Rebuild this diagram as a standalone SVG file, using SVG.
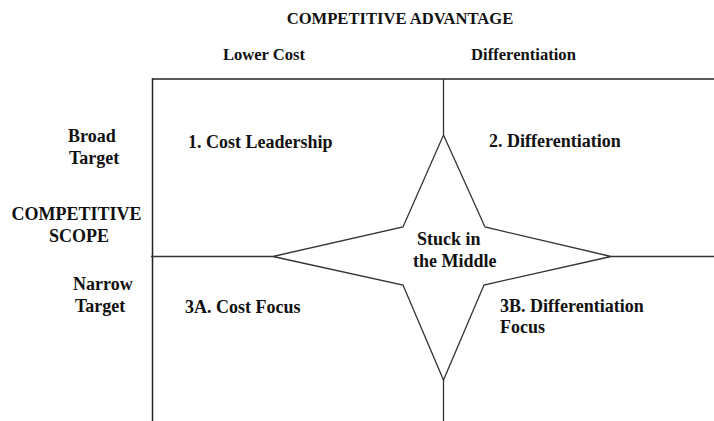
<svg xmlns="http://www.w3.org/2000/svg" width="714" height="421" viewBox="0 0 714 421">
  <style>
    .t { font-family: "Liberation Serif", "Times New Roman", serif; font-weight: bold; font-size: 18px; fill: #111; }
    .h { font-size: 16.6px; }
    .c { text-anchor: middle; }
    .ln { fill: none; stroke: #222; stroke-width: 1.5; }
    .st { fill: none; stroke: #333; stroke-width: 1.3; stroke-linejoin: miter; }
  </style>
  <rect width="714" height="421" fill="#fff"/>

  <!-- headings -->
  <g id="axis-advantage">
    <text class="t h c" x="400" y="24">COMPETITIVE ADVANTAGE</text>
    <text class="t h c" x="264" y="60">Lower Cost</text>
    <text class="t h c" x="523.5" y="60">Differentiation</text>
  </g>
  <g id="axis-scope">
    <text class="t" x="68" y="142">Broad</text>
    <text class="t" x="69" y="164">Target</text>
    <text class="t c" x="76.5" y="220">COMPETITIVE</text>
    <text class="t c" x="79" y="242">SCOPE</text>
    <text class="t" x="73" y="290">Narrow</text>
    <text class="t" x="75" y="312">Target</text>
  </g>

  <!-- grid lines and central star -->
  <g id="connectors">
    <line class="ln" x1="152.5" y1="79" x2="714" y2="79"/>
    <line class="ln" x1="152.5" y1="78.3" x2="152.5" y2="421"/>
    <line class="st" x1="151" y1="256.5" x2="273" y2="256.5"/>
    <line class="st" x1="611" y1="256.5" x2="714" y2="256.5"/>
    <line class="st" x1="443.5" y1="79" x2="443.5" y2="135"/>
    <line class="st" x1="443.5" y1="380" x2="443.5" y2="421"/>
  </g>
  <g id="stuck-in-the-middle">
    <polygon class="st" points="443.5,135 485,227 611,256.5 484,285 443.5,380 403,285 273,256.5 403,227"/>
    <text class="t" x="417" y="245">Stuck in</text>
    <text class="t" x="413" y="267">the Middle</text>
  </g>

  <!-- quadrants -->
  <g id="cost-leadership">
    <text class="t" x="188" y="148">1. Cost Leadership</text>
  </g>
  <g id="differentiation">
    <text class="t" x="489" y="147">2. Differentiation</text>
  </g>
  <g id="cost-focus">
    <text class="t" x="185" y="313">3A. Cost Focus</text>
  </g>
  <g id="differentiation-focus">
    <text class="t" x="500" y="312">3B. Differentiation</text>
    <text class="t" x="500" y="333">Focus</text>
  </g>
</svg>
